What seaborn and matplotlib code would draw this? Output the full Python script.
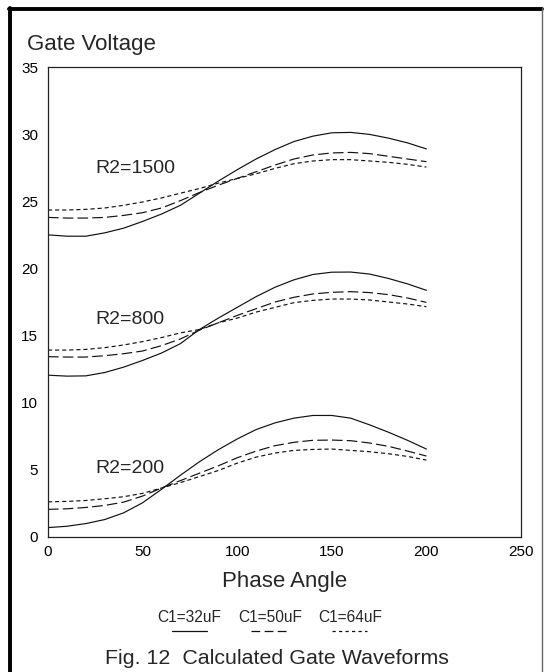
import numpy as np
import pandas as pd
import matplotlib
matplotlib.use("Agg")
import matplotlib.pyplot as plt
from matplotlib.lines import Line2D
from matplotlib.ticker import MultipleLocator
import seaborn as sns

# ---------------- data ----------------
angle = [0, 10, 20, 30, 40, 50, 60, 70, 80, 90, 100,
         110, 120, 130, 140, 150, 160, 170, 180, 190, 200]

r1500_c32 = [22.5, 22.4, 22.4, 22.65, 23.0, 23.5, 24.05, 24.7, 25.6, 26.5, 27.35,
             28.15, 28.85, 29.45, 29.85, 30.1, 30.13, 29.98, 29.7, 29.35, 28.9]
r1500_c50 = [23.8, 23.75, 23.75, 23.8, 23.95, 24.15, 24.5, 25.05, 25.65, 26.2, 26.7,
             27.2, 27.7, 28.15, 28.45, 28.6, 28.64, 28.55, 28.35, 28.15, 27.95]
r1500_c64 = [24.35, 24.35, 24.4, 24.5, 24.7, 24.95, 25.25, 25.6, 25.95, 26.35, 26.7,
             27.05, 27.45, 27.8, 28.0, 28.1, 28.1, 28.0, 27.9, 27.75, 27.55]

r800_c32 = [12.05, 11.98, 12.0, 12.25, 12.65, 13.15, 13.7, 14.4, 15.45, 16.3, 17.1,
            17.9, 18.6, 19.15, 19.55, 19.72, 19.73, 19.58, 19.25, 18.85, 18.37]
r800_c50 = [13.43, 13.4, 13.4, 13.5, 13.65, 13.85, 14.25, 14.75, 15.4, 15.95, 16.5,
            17.0, 17.5, 17.85, 18.1, 18.22, 18.27, 18.2, 18.05, 17.8, 17.47]
r800_c64 = [13.92, 13.92, 13.97, 14.1, 14.3, 14.55, 14.85, 15.2, 15.45, 15.95, 16.3,
            16.75, 17.1, 17.45, 17.62, 17.72, 17.72, 17.65, 17.5, 17.35, 17.15]

r200_c32 = [0.7, 0.8, 1.0, 1.3, 1.8, 2.55, 3.55, 4.6, 5.6, 6.5, 7.3,
            8.0, 8.5, 8.85, 9.05, 9.05, 8.85, 8.35, 7.8, 7.2, 6.55]
r200_c50 = [2.06, 2.1, 2.2, 2.35, 2.6, 3.05, 3.65, 4.2, 4.75, 5.3, 5.9,
            6.4, 6.8, 7.05, 7.2, 7.22, 7.17, 7.0, 6.75, 6.4, 6.03]
r200_c64 = [2.62, 2.65, 2.72, 2.85, 3.0, 3.25, 3.65, 4.05, 4.5, 4.95, 5.5,
            5.95, 6.25, 6.45, 6.52, 6.55, 6.45, 6.35, 6.2, 6.0, 5.73]

r2_labels = ["R2=1500", "R2=800", "R2=200"]
c1_labels = ["C1=32uF", "C1=50uF", "C1=64uF"]
x_ticks = [0, 50, 100, 150, 200, 250]
y_ticks = [0, 5, 10, 15, 20, 25, 30, 35]

series = {
    ("R2=1500", "C1=32uF"): r1500_c32,
    ("R2=1500", "C1=50uF"): r1500_c50,
    ("R2=1500", "C1=64uF"): r1500_c64,
    ("R2=800", "C1=32uF"): r800_c32,
    ("R2=800", "C1=50uF"): r800_c50,
    ("R2=800", "C1=64uF"): r800_c64,
    ("R2=200", "C1=32uF"): r200_c32,
    ("R2=200", "C1=50uF"): r200_c50,
    ("R2=200", "C1=64uF"): r200_c64,
}

rows = []
for (r2, c1), vals in series.items():
    for a, v in zip(angle, vals):
        rows.append({"angle": a, "volt": v, "R2": r2, "C1": c1, "unit": r2 + c1})
df = pd.DataFrame(rows)

# ---------------- plot ----------------
sns.set_theme(style="white")
plt.rcParams["font.family"] = ["Liberation Sans", "DejaVu Sans"]

W, H = 544, 672
fig = plt.figure(figsize=(W / 100, H / 100), dpi=100)
ax = fig.add_axes([48 / W, 1 - 537 / H, (521 - 48) / W, (537 - 67) / H])

dash_map = {"C1=32uF": "", "C1=50uF": (9, 3.5), "C1=64uF": (3.5, 2.5)}
sns.lineplot(data=df, x="angle", y="volt", units="unit", style="C1",
             style_order=c1_labels, dashes=dash_map, estimator=None,
             color="#111111", linewidth=0.85, legend=False, ax=ax, sort=False)

ax.set_xlim(0, 250)
ax.set_ylim(0, 35)
ax.set_xticks(x_ticks)
ax.set_yticks(y_ticks)
ax.yaxis.set_minor_locator(MultipleLocator(2.5))
ax.set_xlabel("")
ax.set_ylabel("")
for s in ax.spines.values():
    s.set_color("#222222")
    s.set_linewidth(0.9)
ax.tick_params(axis="y", which="major", direction="in", length=6.5, width=0.9,
               labelsize=11, pad=7, colors="#222222", labelcolor="black")
ax.tick_params(axis="y", which="minor", direction="in", length=3, width=0.9,
               colors="#222222")
ax.tick_params(axis="x", which="major", direction="in", length=7, width=0.9,
               labelsize=11, pad=5.5, colors="#222222", labelcolor="black")

# curve-group labels
label_pos = {"R2=1500": 27.13, "R2=800": 15.86, "R2=200": 4.74}
for lab in r2_labels:
    ax.text(25, label_pos[lab], lab, fontsize=14, ha="left", va="baseline")

def fx(px):
    return px / W

def fy(py):
    return 1 - py / H

fig.text(fx(27), fy(50), "Gate Voltage", fontsize=16, ha="left", va="baseline")
fig.text(fx(284.5), fy(587), "Phase Angle", fontsize=16, ha="center", va="baseline")

# legend
leg_centers = [189, 270.6, 350.4]
leg_lines = [(172.4, 207.4), (251.2, 288), (331.8, 366.9)]
leg_dash = [None, (7, 3.5), (2.6, 2.6)]
for lab, cx, (x0, x1), ds in zip(c1_labels, leg_centers, leg_lines, leg_dash):
    fig.text(fx(cx), fy(622), lab, fontsize=11.2, ha="center", va="baseline")
    ln = Line2D([fx(x0), fx(x1)], [fy(631), fy(631)], transform=fig.transFigure,
                color="#111111", linewidth=0.9)
    if ds is not None:
        ln.set_dashes(ds)
    fig.add_artist(ln)

fig.text(fx(276.5), fy(664.5), "Fig. 12  Calculated Gate Waveforms", fontsize=15.4,
         ha="center", va="baseline")

# figure frame
fig.add_artist(Line2D([fx(10), fx(10)], [fy(8), 0], transform=fig.transFigure,
                      color="black", linewidth=2.8))
fig.add_artist(Line2D([fx(8.6), fx(542)], [fy(8.5), fy(8.5)], transform=fig.transFigure,
                      color="black", linewidth=2.8))
fig.add_artist(Line2D([fx(542), fx(542)], [fy(8), 0], transform=fig.transFigure,
                      color="#666666", linewidth=1.0))

fig.savefig("out.png", dpi=100)
